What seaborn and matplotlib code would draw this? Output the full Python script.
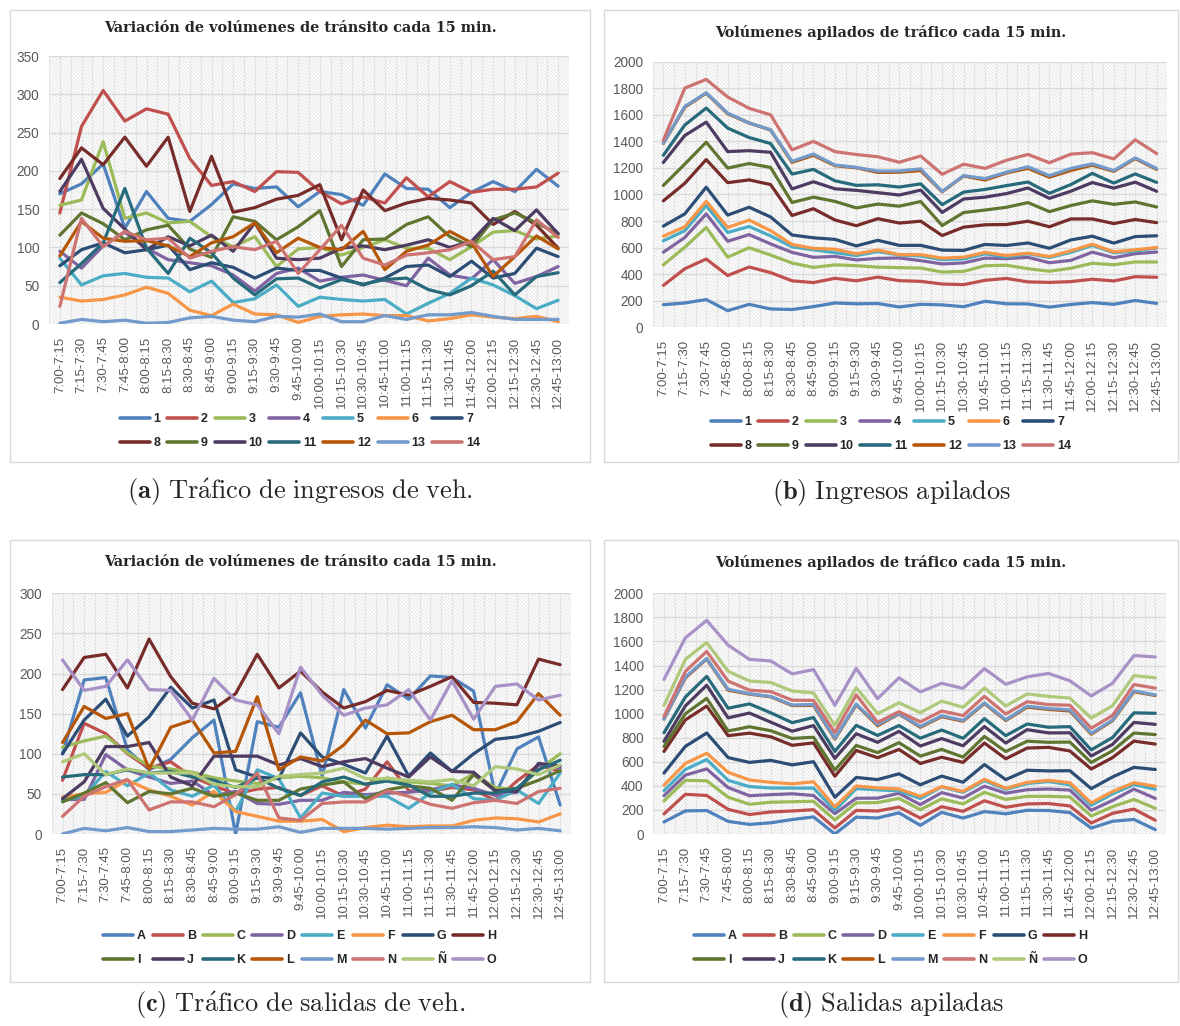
import numpy as np
import pandas as pd
import matplotlib
matplotlib.use("Agg")
import matplotlib.pyplot as plt
from matplotlib.patches import Rectangle
from matplotlib.lines import Line2D
import seaborn as sns

# 15-minute counting intervals
periods = ["7:00-7:15", "7:15-7:30", "7:30-7:45", "7:45-8:00", "8:00-8:15",
           "8:15-8:30", "8:30-8:45", "8:45-9:00", "9:00-9:15", "9:15-9:30",
           "9:30-9:45", "9:45-10:00", "10:00-10:15", "10:15-10:30", "10:30-10:45",
           "10:45-11:00", "11:00-11:15", "11:15-11:30", "11:30-11:45", "11:45-12:00",
           "12:00-12:15", "12:15-12:30", "12:30-12:45", "12:45-13:00"]

# Incoming vehicles per access point (veh / 15 min)
ingreso_1 = [170, 183, 209, 125, 173, 138, 134, 156, 183, 177, 179, 153, 173, 169, 155, 196, 177, 176, 152, 172, 186, 173, 202, 180]
ingreso_2 = [145, 258, 305, 265, 281, 274, 216, 181, 186, 173, 199, 198, 173, 157, 166, 158, 191, 166, 186, 172, 176, 176, 179, 197]
ingreso_3 = [155, 162, 238, 138, 145, 132, 134, 114, 101, 114, 75, 98, 100, 90, 100, 110, 99, 99, 84, 101, 120, 122, 111, 115]
ingreso_4 = [95, 73, 102, 120, 99, 84, 80, 76, 64, 43, 66, 73, 56, 61, 64, 57, 50, 86, 64, 59, 84, 53, 62, 75]
ingreso_5 = [86, 51, 63, 66, 61, 60, 42, 56, 28, 33, 51, 23, 35, 32, 30, 32, 13, 27, 40, 60, 51, 37, 20, 31]
ingreso_6 = [35, 30, 32, 38, 48, 40, 18, 11, 26, 13, 12, 2, 10, 12, 13, 11, 11, 4, 7, 12, 9, 7, 10, 3]
ingreso_7 = [76, 97, 106, 93, 97, 103, 71, 80, 74, 60, 73, 70, 70, 60, 51, 60, 75, 77, 62, 82, 60, 66, 99, 88]
ingreso_8 = [190, 230, 208, 244, 206, 244, 147, 219, 146, 152, 163, 168, 182, 110, 175, 148, 158, 164, 162, 158, 130, 147, 129, 99]
ingreso_9 = [116, 145, 131, 110, 123, 129, 98, 87, 140, 134, 110, 127, 148, 75, 110, 111, 130, 140, 114, 101, 136, 145, 132, 118]
ingreso_10 = [173, 215, 151, 124, 97, 114, 102, 116, 95, 132, 86, 84, 86, 99, 102, 97, 103, 110, 100, 108, 138, 122, 149, 118]
ingreso_11 = [54, 79, 106, 177, 99, 66, 112, 93, 60, 38, 59, 60, 47, 58, 52, 58, 60, 45, 38, 50, 69, 38, 62, 67]
ingreso_12 = [89, 134, 112, 108, 109, 102, 88, 106, 114, 132, 93, 112, 100, 97, 121, 71, 95, 103, 121, 106, 62, 88, 115, 98]
ingreso_13 = [1, 6, 3, 5, 1, 2, 8, 10, 5, 3, 10, 9, 13, 3, 3, 11, 6, 12, 12, 15, 10, 6, 6, 6]
ingreso_14 = [23, 138, 101, 121, 110, 112, 86, 95, 101, 97, 108, 66, 97, 129, 86, 77, 90, 93, 97, 108, 84, 88, 136, 113]

# Outgoing vehicles per exit point (veh / 15 min)
salida_A = [100, 192, 195, 105, 80, 93, 120, 142, 0, 140, 133, 176, 72, 180, 132, 186, 168, 197, 195, 178, 49, 106, 121, 36]
salida_B = [67, 138, 125, 100, 82, 90, 71, 60, 50, 56, 58, 48, 60, 47, 56, 90, 54, 53, 58, 55, 42, 66, 86, 78]
salida_C = [108, 116, 122, 101, 85, 81, 77, 70, 66, 63, 70, 72, 70, 65, 62, 70, 65, 63, 60, 75, 58, 55, 80, 100]
salida_D = [43, 43, 99, 80, 71, 63, 66, 48, 53, 38, 37, 42, 42, 52, 49, 51, 52, 55, 61, 57, 48, 52, 86, 82]
salida_E = [42, 47, 78, 60, 76, 55, 47, 61, 28, 80, 69, 20, 51, 47, 47, 47, 32, 51, 62, 44, 42, 55, 38, 76]
salida_F = [46, 50, 52, 67, 55, 47, 36, 53, 28, 22, 16, 16, 18, 3, 8, 11, 9, 10, 10, 17, 20, 19, 15, 25]
salida_G = [100, 142, 168, 122, 146, 183, 157, 167, 80, 71, 69, 126, 96, 87, 76, 122, 72, 101, 78, 100, 118, 121, 128, 139]
salida_H = [180, 220, 224, 182, 243, 196, 163, 156, 175, 224, 182, 203, 177, 157, 165, 179, 173, 184, 196, 164, 163, 161, 218, 211]
salida_I = [40, 51, 64, 39, 53, 50, 57, 47, 51, 42, 42, 56, 61, 65, 44, 55, 60, 57, 42, 74, 54, 57, 67, 79]
salida_J = [44, 65, 109, 109, 114, 71, 60, 97, 97, 97, 86, 94, 84, 90, 94, 82, 71, 96, 78, 77, 54, 53, 88, 85]
salida_K = [71, 74, 74, 80, 76, 78, 71, 67, 58, 70, 57, 48, 65, 71, 62, 66, 61, 47, 47, 51, 51, 57, 80, 92]
salida_L = [114, 159, 144, 150, 81, 133, 142, 101, 103, 171, 80, 96, 91, 111, 142, 125, 126, 140, 148, 130, 130, 140, 175, 148]
salida_M = [0, 7, 4, 8, 3, 3, 5, 7, 6, 6, 9, 2, 7, 7, 7, 6, 7, 8, 8, 9, 8, 5, 7, 4]
salida_N = [22, 47, 59, 68, 30, 40, 40, 34, 49, 76, 20, 17, 38, 40, 40, 54, 47, 37, 32, 39, 42, 38, 53, 57]
salida_NN = [90, 100, 74, 81, 76, 76, 76, 62, 59, 59, 72, 74, 76, 82, 69, 69, 67, 65, 68, 60, 84, 81, 74, 86]
salida_O = [217, 179, 184, 217, 180, 179, 142, 194, 167, 161, 125, 208, 173, 148, 157, 161, 180, 142, 191, 143, 184, 187, 167, 173]

ingreso_names = [str(i) for i in range(1, 15)]
ingreso_values = [ingreso_1, ingreso_2, ingreso_3, ingreso_4, ingreso_5, ingreso_6, ingreso_7,
                  ingreso_8, ingreso_9, ingreso_10, ingreso_11, ingreso_12, ingreso_13, ingreso_14]
salida_names = ["A", "B", "C", "D", "E", "F", "G", "H", "I", "J", "K", "L", "M", "N", "Ñ", "O"]
salida_values = [salida_A, salida_B, salida_C, salida_D, salida_E, salida_F, salida_G, salida_H,
                 salida_I, salida_J, salida_K, salida_L, salida_M, salida_N, salida_NN, salida_O]

office_colors = ["#4F81BD", "#C0504D", "#9BBB59", "#8064A2", "#4BACC6", "#F79646",
                 "#2C4D75", "#772C2A", "#5F7530", "#4D3B62", "#276A7C", "#B65708",
                 "#729ACA", "#CD7371", "#AFC97A", "#A791C6"]

sns.set_theme(style="white")
plt.rcParams['font.family'] = ['Liberation Sans', 'DejaVu Sans']
plt.rcParams['mathtext.fontset'] = 'cm'
plt.rcParams['hatch.linewidth'] = 0.5

W, H = 1180, 1026
fig = plt.figure(figsize=(W / 100, H / 100), dpi=100)
fig.patch.set_facecolor("white")


def fig_rect(l, t, r, b):
    return [l / W, 1 - b / H, (r - l) / W, (b - t) / H]


def draw_panel(plot_px, frame_px, title, title_y, names, values, ymax, ystep,
               stacked, legend_y, caption, caption_y):
    l, t, r, b = frame_px
    fig.patches.append(Rectangle((l / W, 1 - b / H), (r - l) / W, (b - t) / H,
                                 transform=fig.transFigure, fill=False,
                                 edgecolor="#d9d9d9", lw=1.0, zorder=0))
    ax = fig.add_axes(fig_rect(*plot_px))
    n = len(periods)
    data = np.array(values, dtype=float)
    if stacked:
        data = np.cumsum(data, axis=0)
    df = pd.DataFrame({
        "periodo": np.tile(np.arange(n), len(names)),
        "serie": np.repeat(names, n),
        "valor": data.ravel(),
    })
    colors = office_colors[:len(names)]
    sns.lineplot(data=df, x="periodo", y="valor", hue="serie", hue_order=names,
                 palette=colors, linewidth=2.3, errorbar=None, sort=False,
                 legend=False, ax=ax)
    for ln in ax.lines:
        ln.set_solid_joinstyle("round")
        ln.set_solid_capstyle("round")

    # patterned plot area
    ax.add_patch(Rectangle((0, 0), 1, 1, transform=ax.transAxes, facecolor="white",
                           edgecolor="#dcdcdc", hatch="\\\\\\\\\\\\\\\\\\\\", lw=0,
                           zorder=0))
    ax.set_axisbelow(True)
    ax.set_xlim(-0.5, n - 0.5)
    ax.set_ylim(0, ymax)
    ax.set_yticks(np.arange(0, ymax + 1, ystep))
    ax.set_xticks(np.arange(n))
    ax.set_xticks(np.arange(-0.5, n, 1.0), minor=True)
    ax.set_xticklabels(periods, rotation=90, fontsize=9.5, color="#595959")
    ax.tick_params(axis="y", labelsize=9.8, labelcolor="#595959", pad=7, length=0)
    ax.tick_params(axis="x", pad=9, length=0, which="both")
    ax.grid(axis="y", color="#d9d9d9", lw=0.9)
    ax.grid(axis="x", which="both", color="#e4e4e4", lw=0.8)
    for sp in ax.spines.values():
        sp.set_visible(False)
    ax.set_xlabel("")
    ax.set_ylabel("")

    fig.text((l + r) / 2 / W, 1 - title_y / H, title, ha="center", va="center",
             fontsize=10.4, fontweight="bold", family="DejaVu Serif")

    handles = [Line2D([0], [0], color=c, lw=2.6) for c in colors]
    ncol = (len(names) + 1) // 2
    order = []
    for j in range(ncol):
        order.append(j)
        if j + ncol < len(names):
            order.append(j + ncol)
    fig.legend([handles[k] for k in order], [names[k] for k in order],
               loc="center", bbox_to_anchor=((l + r) / 2 / W, 1 - legend_y / H),
               ncol=ncol, frameon=False, handlelength=2.4, handletextpad=0.3,
               columnspacing=0.55, labelspacing=0.95,
               prop={"weight": "bold", "size": 9})

    fig.text((l + r) / 2 / W, 1 - caption_y / H, caption, ha="center", va="center",
             fontsize=19)


draw_panel((49, 56, 569, 324), (10, 10, 590, 462),
           "Variación de volúmenes de tránsito cada 15 min.", 28,
           ingreso_names, ingreso_values, 350, 50, False, 431,
           r"$\mathbf{(a)}\ \mathrm{Tr\acute{a}fico\ de\ ingresos\ de\ veh.}$", 492)
draw_panel((652.6, 61.7, 1167.4, 327.3), (604, 10, 1178, 462),
           "Volúmenes apilados de tráfico cada 15 min.", 33,
           ingreso_names, ingreso_values, 2000, 200, True, 434,
           r"$\mathbf{(b)}\ \mathrm{Ingresos\ apilados}$", 492)
draw_panel((51.7, 593.3, 571, 834), (10, 540, 590, 982),
           "Variación de volúmenes de tránsito cada 15 min.", 562,
           salida_names, salida_values, 300, 50, False, 948,
           r"$\mathbf{(c)}\ \mathrm{Tr\acute{a}fico\ de\ salidas\ de\ veh.}$", 1005)
draw_panel((653.3, 593.3, 1166, 834), (604, 540, 1178, 982),
           "Volúmenes apilados de tráfico cada 15 min.", 562,
           salida_names, salida_values, 2000, 200, True, 948,
           r"$\mathbf{(d)}\ \mathrm{Salidas\ apiladas}$", 1005)

fig.savefig("out.png", dpi=100, facecolor="white")
